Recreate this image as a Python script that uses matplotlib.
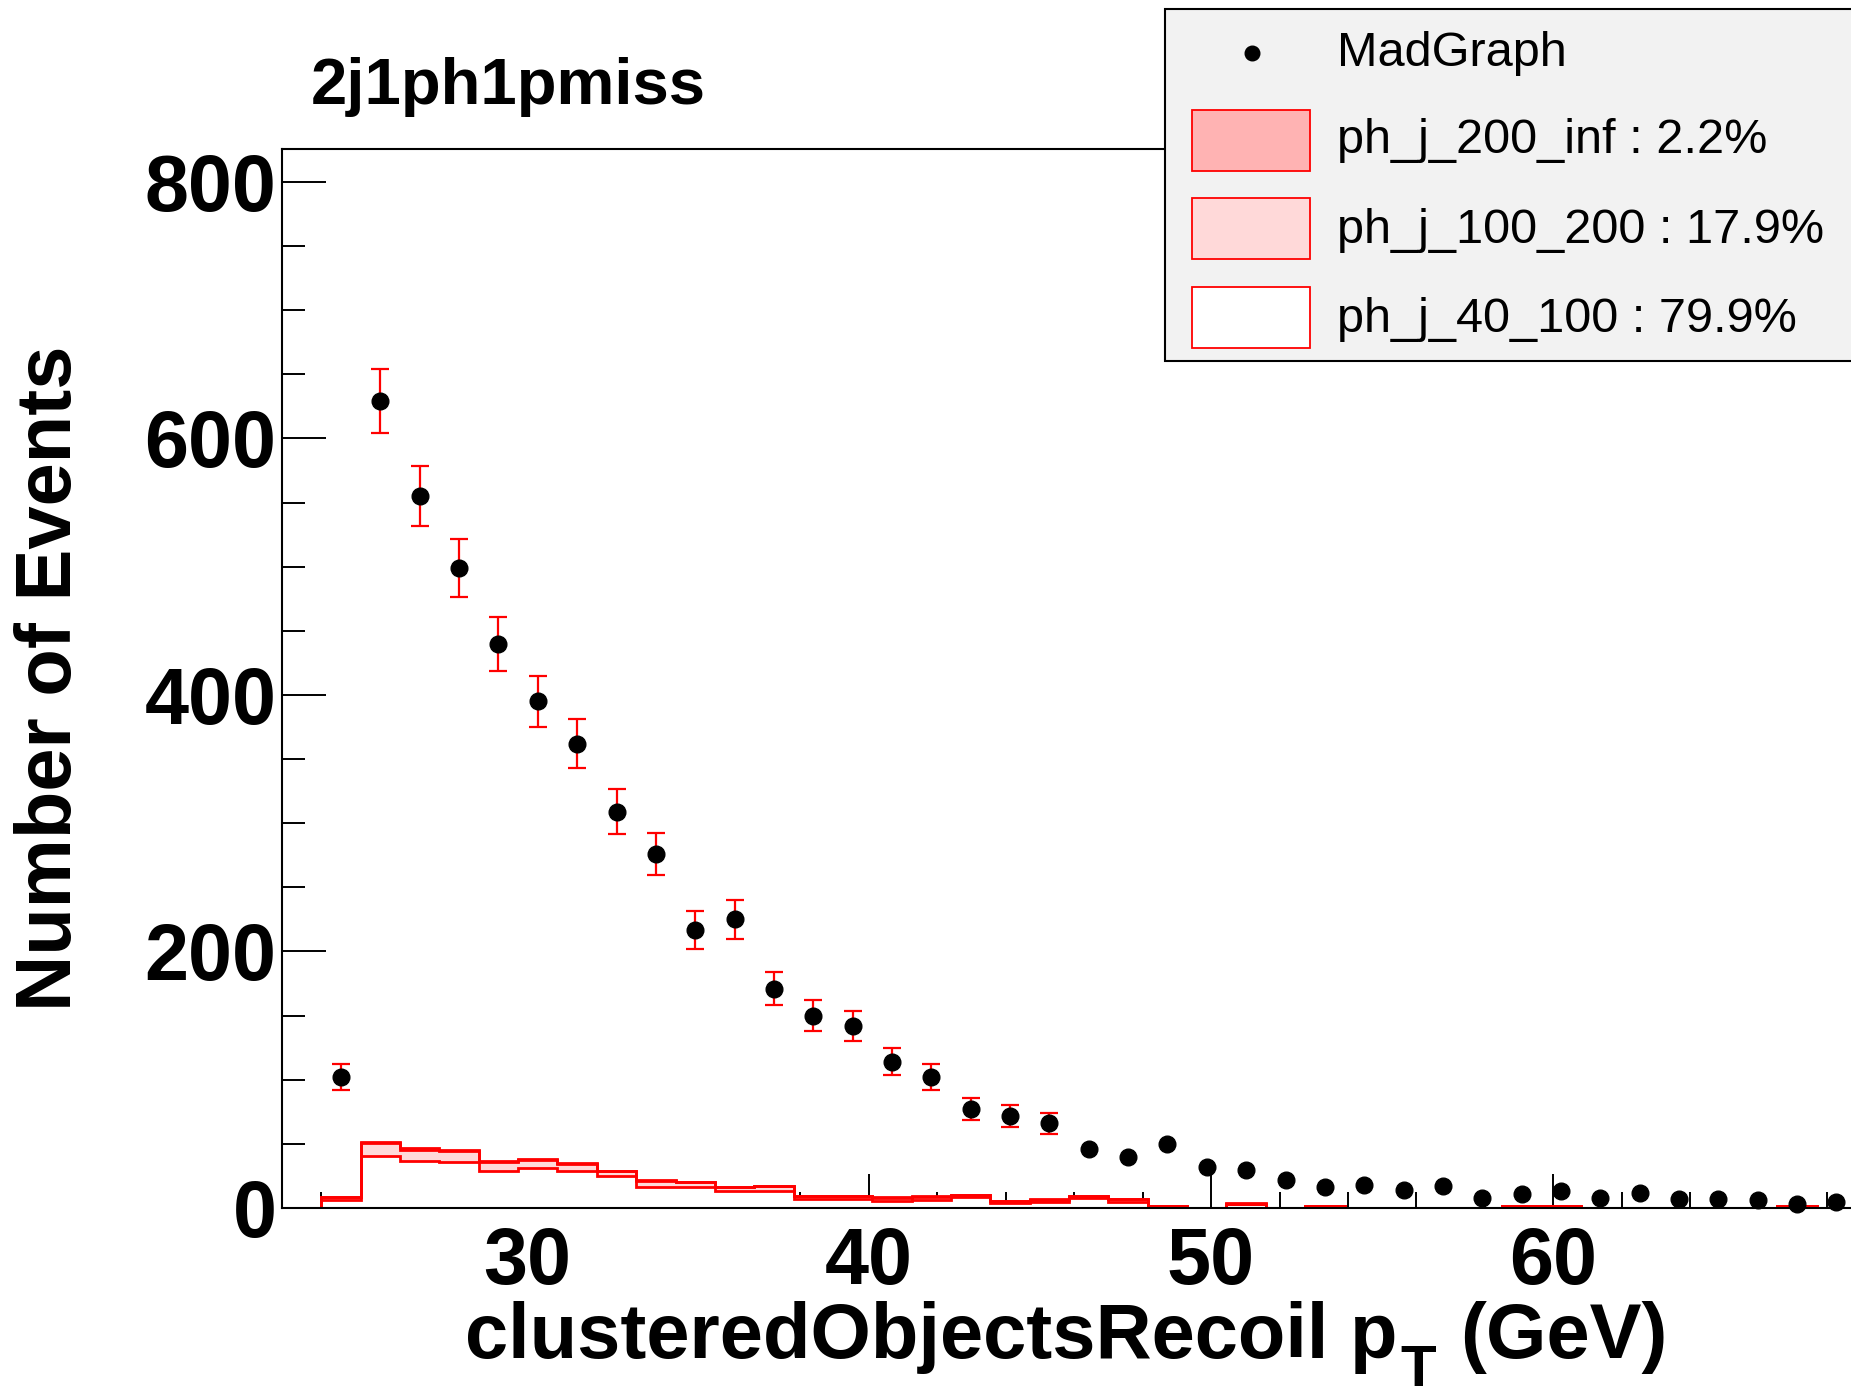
import numpy as np
import matplotlib
matplotlib.use('Agg')
import matplotlib.pyplot as plt
from matplotlib.patches import Rectangle
from matplotlib.lines import Line2D
from matplotlib.ticker import MultipleLocator

plt.rcParams['font.family'] = ['Liberation Sans', 'DejaVu Sans']

# ---------------- data ----------------
bin_low = 22.85
bin_width = 1.15
n_bins = 40

madgraph = [np.nan, 102, 629, 555, 499, 440, 395, 362, 309, 276, 217, 225, 171, 150,
            142, 114, 102, 77, 72, 66, 46, 40, 50, 32, 30, 22, 16, 18, 14, 17, 8, 11,
            13, 8, 12, 7, 7, 6, 3, 5]

ph_j_40_100 = [0, 6.3, 40.8, 36.9, 36.1, 28.8, 31.4, 28.8, 25.0, 16.6, 16.6, 13.5, 13.5,
               6.8, 6.8, 5.7, 6.2, 8.3, 3.6, 4.5, 7.6, 4.7, 1.2, 0, 3.3, 0, 1.3, 0, 0, 0,
               0, 1.3, 1.3, 0, 0, 0, 0, 0, 1.3, 0]
ph_j_100_200 = [0, 2.2, 9.7, 8.7, 8.1, 7.3, 5.8, 5.2, 3.5, 4.5, 3.4, 2.7, 3.5, 2.6, 2.6,
                2.4, 2.7, 1.9, 1.5, 2.1, 1.8, 2.1, 0.6, 0, 0.2, 0, 0, 0, 0, 0, 0, 0, 0,
                0, 0, 0, 0, 0, 0, 0]
ph_j_200_inf = [0, 0.3, 1.2, 1.0, 1.0, 0.8, 0.8, 0.8, 0.6, 0.5, 0.5, 0.4, 0.4, 0.2, 0.2,
                0.2, 0.2, 0.2, 0.1, 0.2, 0.2, 0.2, 0, 0, 0.1, 0, 0, 0, 0, 0, 0, 0, 0,
                0, 0, 0, 0, 0, 0, 0]

legend_labels = ['MadGraph', 'ph_j_200_inf : 2.2%', 'ph_j_100_200 : 17.9%', 'ph_j_40_100 : 79.9%']
title = '2j1ph1pmiss'
ylabel = 'Number of Events'
xlabel_main, xlabel_sub, xlabel_tail = 'clusteredObjectsRecoil p', 'T', '(GeV)'
ymax = 825.7

# ---------------- figure ----------------
W, H = 1851, 1400
fig = plt.figure(figsize=(W / 100, H / 100), dpi=100)
fig.patch.set_facecolor('white')

def fx(x):
    return x / W

def fy(y):
    return 1 - y / H

edges = bin_low + bin_width * np.arange(n_bins + 1)
centers = 0.5 * (edges[:-1] + edges[1:])
xmin, xmax = edges[0], edges[-1]
px_per_unit = 34.22
ax_left, ax_top, ax_bottom = 282, 149, 1208
ax_w = (xmax - xmin) * px_per_unit
ax = fig.add_axes([fx(ax_left), fy(ax_bottom), ax_w / W, (ax_bottom - ax_top) / H])

red = '#ff0000'
c_dark = '#ffb3b3'
c_light = '#ffd9d9'

w = np.array(ph_j_40_100)
p = np.array(ph_j_100_200)
d = np.array(ph_j_200_inf)
lw = 2.0

ax.stairs(w, edges, baseline=0, fill=True, facecolor='white', edgecolor='none', zorder=2)
ax.stairs(w + p, edges, baseline=w, fill=True, facecolor=c_light, edgecolor='none', zorder=2)
ax.stairs(w + p + d, edges, baseline=w + p, fill=True, facecolor=c_dark, edgecolor='none', zorder=2)
ax.stairs(w, edges, baseline=0, fill=False, color=red, lw=lw, zorder=3)
ax.stairs(w + p, edges, baseline=0, fill=False, color=red, lw=lw, zorder=3)
ax.stairs(w + p + d, edges, baseline=0, fill=False, color=red, lw=lw, zorder=3)

mg = np.array(madgraph, dtype=float)
err = np.sqrt(mg)
show = err > 7.5
ax.errorbar(centers[show], mg[show], yerr=err[show], fmt='none', ecolor=red,
            elinewidth=1.6, capsize=6.5, capthick=1.6, zorder=4)
ax.plot(centers, mg, 'o', color='black', ms=12, zorder=5, clip_on=False)

ax.set_xlim(xmin, xmax)
ax.set_ylim(0, ymax)
ax.xaxis.set_major_locator(MultipleLocator(10))
ax.xaxis.set_minor_locator(MultipleLocator(2))
ax.yaxis.set_major_locator(MultipleLocator(200))
ax.yaxis.set_minor_locator(MultipleLocator(50))
ax.tick_params(axis='x', which='major', direction='in', length=24.5, width=1.4, pad=13,
               labelsize=57)
ax.tick_params(axis='x', which='minor', direction='in', length=11.5, width=1.4)
ax.tick_params(axis='y', which='major', direction='in', length=31.7, width=1.4, pad=4,
               labelsize=57)
ax.tick_params(axis='y', which='minor', direction='in', length=16.6, width=1.4)
for lab in ax.get_xticklabels() + ax.get_yticklabels():
    lab.set_fontweight('bold')
for s in ax.spines.values():
    s.set_linewidth(1.5)
    s.set_color('black')
    s.set_zorder(6)

# title
fig.text(fx(311), fy(104), title, fontsize=47, fontweight='bold', ha='left', va='baseline')

# y label
fig.text(fx(51), fy(678), ylabel, fontsize=56, fontweight='bold', rotation=90,
         ha='center', va='center')

# x label composed of pieces (subscript T)
renderer = fig.canvas.get_renderer()
t1 = fig.text(0, fy(1358), xlabel_main, fontsize=56, fontweight='bold', ha='left', va='baseline')
t2 = fig.text(0, fy(1386), xlabel_sub, fontsize=42, fontweight='bold', ha='left', va='baseline')
t3 = fig.text(0, fy(1358), xlabel_tail, fontsize=56, fontweight='bold', ha='left', va='baseline')
w1 = t1.get_window_extent(renderer).width
w2 = t2.get_window_extent(renderer).width
w3 = t3.get_window_extent(renderer).width
gap1, gap2 = 3, 24
total = w1 + gap1 + w2 + gap2 + w3
x0 = 1066 - total / 2
t1.set_x(fx(x0))
t2.set_x(fx(x0 + w1 + gap1))
t3.set_x(fx(x0 + w1 + gap1 + w2 + gap2))

# legend (drawn in figure pixels)
fig.add_artist(Rectangle((fx(1165), fy(361)), (W + 10 - 1165) / W, (361 - 9) / H,
                         transform=fig.transFigure, facecolor='#f2f2f2',
                         edgecolor='black', lw=1.5, zorder=10))
fig.add_artist(Line2D([fx(1252)], [fy(53)], marker='o', ms=10.5, color='black',
                      linestyle='none', transform=fig.transFigure, zorder=11))
box_fills = [c_dark, c_light, 'white']
box_tops = [110, 198, 287]
for fc, top in zip(box_fills, box_tops):
    fig.add_artist(Rectangle((fx(1192), fy(top + 61)), (1310 - 1192) / W, 61 / H,
                             transform=fig.transFigure, facecolor=fc, edgecolor=red,
                             lw=1.3, zorder=11))
baselines = [66, 153, 243, 332]
for lab, bl in zip(legend_labels, baselines):
    fig.text(fx(1337), fy(bl), lab, fontsize=35, ha='left', va='baseline', zorder=12)

fig.savefig('out.png', dpi=100)
